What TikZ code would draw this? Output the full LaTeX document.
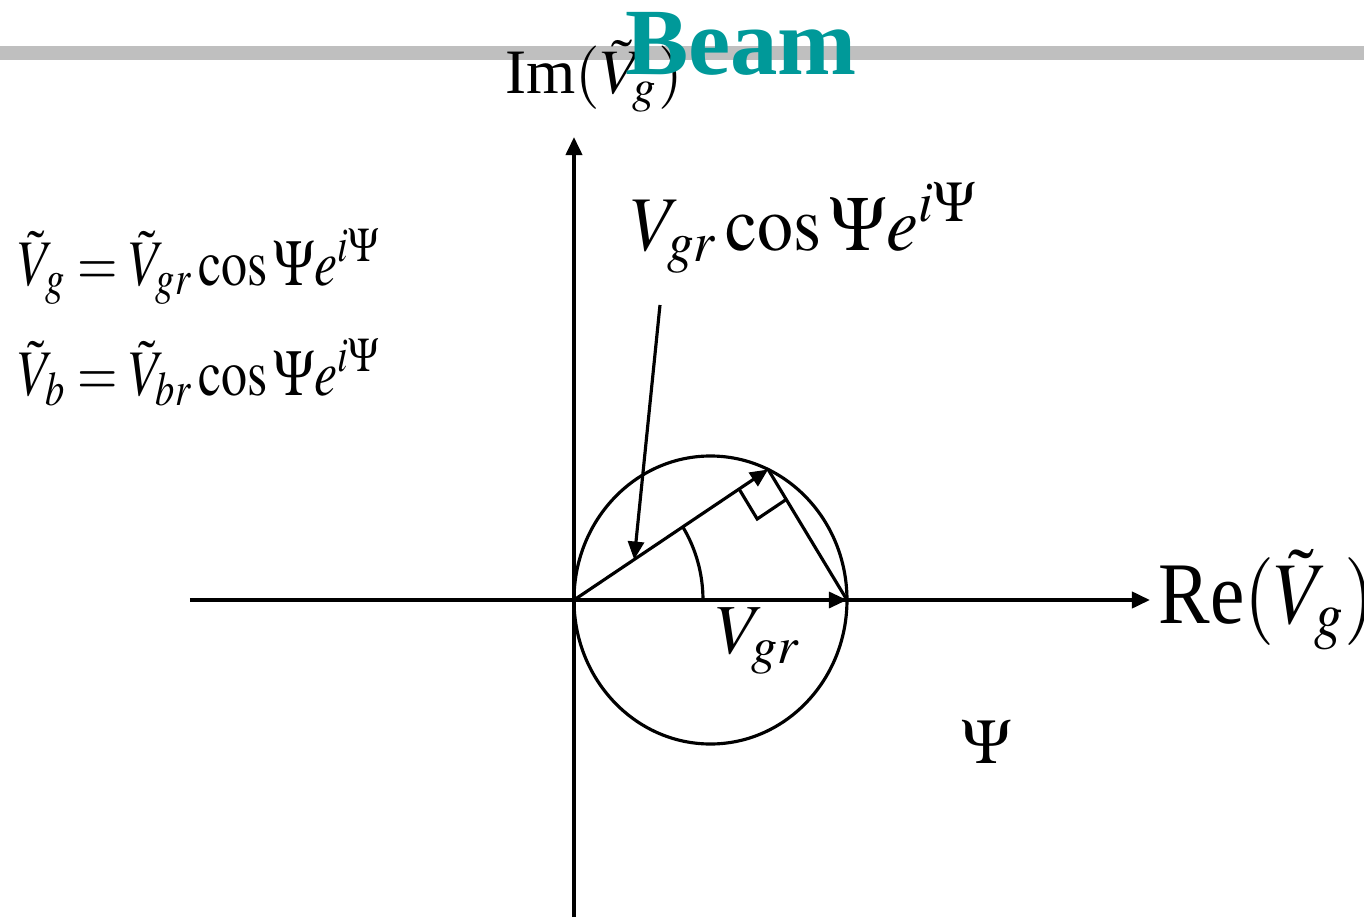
\documentclass[tikz,border=0pt]{standalone}
\usepackage{mathptmx}
\usepackage{fontspec}
\setmainfont{Liberation Serif}
\usetikzlibrary{arrows.meta,positioning,calc}
\definecolor{beamteal}{RGB}{0,153,153}
\tikzset{
  axis/.style={line width=1.1pt,-{Triangle[length=0.18cm,width=0.16cm]}},
  vec/.style={line width=0.9pt,-{Triangle[length=0.18cm,width=0.16cm]}},
  thinline/.style={line width=0.9pt},
  lbl/.style={inner sep=0pt,anchor=base west},
}
\begin{document}
\begin{tikzpicture}
  \def\D{2.73}
  \def\psiang{32.5}
  \def\mk{0.35cm}
  \useasboundingbox (-5.74,-3.17) rectangle (7.90,6.00);
  \draw[line width=0.14cm,gray!50] (-5.74,5.47) -- (7.90,5.47);
  \coordinate (O) at (0,0);
  \coordinate (xl) at (-3.84,0);
  \coordinate (xr) at (5.76,0);
  \coordinate (yb) at (0,-3.17);
  \coordinate (yt) at (0,4.63);
  \draw[axis] (xl) -- (xr);
  \draw[axis] (yb) -- (yt);
  \begin{scope}[yscale=1.055]
    \coordinate (P) at (\D,0);
    \coordinate (C) at (\D/2,0);
    \coordinate (Q) at ({\D*cos(\psiang)*cos(\psiang)},{\D*cos(\psiang)*sin(\psiang)});
    \coordinate (hit) at ($(O)!0.31!(Q)$);
    \draw[thinline] (C) circle[radius=\D/2];
    \draw[vec] (O) -- (P);
    \draw[vec] (O) -- (Q);
    \draw[thinline] (Q) -- (P);
    \draw[thinline] (1.29,0) arc[start angle=0,end angle=\psiang,radius=1.29];
  \end{scope}
  \coordinate (mA) at ($(Q)!\mk!(O)$);
  \coordinate (mB) at ($(Q)!\mk!(P)$);
  \coordinate (mC) at ($(mA)+(mB)-(Q)$);
  \draw[thinline] (mA) -- (mC) -- (mB);
  \node[lbl,xscale=0.93,font=\fontsize{22}{26}\selectfont] (proj) at (0.56,3.5) {$V_{gr}\cos\Psi e^{i\Psi}$};
  \coordinate (ptr) at ($(proj.base west)+(0.3,-0.55)$);
  \draw[vec] (ptr) -- (hit);
  \node[lbl,font=\fontsize{20}{24}\selectfont] (vgr) at (1.41,-0.53) {$V_{gr}$};
  \node[inner sep=0pt,font=\fontsize{18}{20}\selectfont] (psi) at (4.13,-1.42) {$\Psi$};
  \node[lbl,xscale=0.88,font=\fontsize{25}{28}\selectfont] (relbl) at (5.84,-0.23) {Re$(\tilde V_g)$};
  \node[lbl,xscale=0.8,font=\fontsize{18.5}{22}\selectfont] (eqg) at (-5.56,3.15) {$\tilde V_g=\tilde V_{gr}\cos\Psi e^{i\Psi}$};
  \node[lbl,xscale=0.8,font=\fontsize{18.5}{22}\selectfont] (eqb) at (-5.56,2.05) {$\tilde V_b=\tilde V_{br}\cos\Psi e^{i\Psi}$};
  \node[lbl,font=\fontsize{18}{20}\selectfont] (imlbl) at (-0.69,5.07) {Im$(\tilde V_g)$};
  \node[inner sep=0pt,anchor=base,font=\fontsize{27}{29}\selectfont\bfseries,text=beamteal] (beam) at (1.67,5.26) {Beam};
\end{tikzpicture}
\end{document}
